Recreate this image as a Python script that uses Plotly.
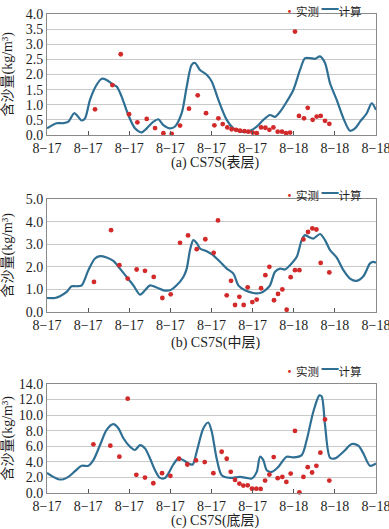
import plotly.graph_objects as go

# ---------------- data ----------------
tick_hours = [0, 4, 8, 12, 16, 20, 24, 28, 32]
tick_labels = ["8−17", "8−17", "8−17", "8−17", "8−17", "8−17", "8−18", "8−18", "8−18"]

# (a) surface layer
a_calc_x = [0, 0.94, 1.59, 2.08, 2.63, 2.89, 3.37, 3.70, 4.18, 4.83, 5.32, 5.80, 6.45, 6.78, 7.26, 7.91,
            8.56, 9.21, 9.70, 10.35, 10.83, 11.32, 11.97, 12.45, 13.10, 13.59, 14.07, 14.40, 14.88, 15.53,
            16.02, 16.67, 17.48, 18.13, 18.77, 19.58, 20.40, 21.04, 21.69, 22.18, 22.67, 23.31, 23.96,
            24.61, 25.10, 25.58, 26.07, 26.56, 27.04, 27.53, 28.18, 28.83, 29.47, 29.96, 30.45, 31.10,
            31.58, 32.0]
a_calc_y = [0.22, 0.39, 0.39, 0.44, 0.72, 0.66, 0.48, 0.55, 1.16, 1.66, 1.86, 1.82, 1.66, 1.6, 1.27, 0.66,
            0.22, 0.09, 0.22, 0.44, 0.52, 0.33, 0.22, 0.28, 0.72, 1.6, 2.32, 2.38, 2.15, 1.99, 1.77, 1.16,
            0.5, 0.22, 0.12, 0.11, 0.28, 0.5, 0.66, 0.6, 0.77, 1.1, 1.49, 2.15, 2.54, 2.54, 2.52, 2.6, 2.38,
            1.71, 1.16, 0.55, 0.14, 0.22, 0.44, 0.72, 1.05, 0.83]
a_obs_x = [4.67, 6.36, 7.17, 7.98, 8.79, 9.70, 10.51, 11.32, 12.13, 12.94, 13.81, 14.66, 15.47, 16.28,
           16.67, 17.09, 17.54, 17.96, 18.39, 18.77, 19.20, 19.58, 20.01, 20.40, 20.82, 21.24, 21.63,
           22.02, 22.44, 22.86, 23.25, 23.64, 24.12, 24.51, 25.0, 25.36, 25.84, 26.23, 26.62, 27.04, 27.46]
a_obs_y = [0.85, 1.65, 2.67, 0.69, 0.42, 0.53, 0.23, 0.06, 0.04, 0.31, 0.87, 1.31, 0.72, 0.32, 0.55, 0.36,
           0.25, 0.19, 0.17, 0.14, 0.13, 0.11, 0.08, 0.06, 0.25, 0.24, 0.17, 0.25, 0.11, 0.11, 0.06, 0.08,
           3.42, 0.63, 0.55, 0.9, 0.5, 0.61, 0.63, 0.47, 0.37]

# (b) middle layer
b_calc_x = [0, 0.78, 1.26, 1.91, 2.40, 2.89, 3.37, 4.02, 4.67, 5.16, 5.80, 6.45, 7.10, 7.75, 8.40, 9.05,
            9.53, 10.02, 10.67, 11.32, 11.96, 12.61, 13.26, 13.59, 13.91, 14.23, 14.56, 14.88, 15.53,
            16.18, 16.83, 17.48, 18.13, 18.61, 19.26, 20.07, 20.72, 21.21, 21.69, 22.18, 22.67, 23.15,
            23.64, 24.29, 24.77, 25.10, 25.42, 25.91, 26.56, 27.04, 27.53, 28.18, 28.83, 29.47, 30.12,
            30.77, 31.42, 31.74, 32.0]
b_calc_y = [0.62, 0.62, 0.7, 0.89, 1.14, 1.14, 1.18, 1.85, 2.37, 2.47, 2.41, 2.26, 1.92, 1.55, 1.18, 0.77,
            0.96, 1.18, 1.08, 0.96, 0.96, 1.18, 1.55, 1.92, 2.74, 3.18, 3.05, 2.81, 2.69, 2.51, 2.22, 1.92,
            1.7, 1.18, 0.96, 0.84, 0.84, 0.96, 1.18, 1.78, 1.92, 1.88, 2.07, 2.44, 3.18, 3.4, 3.33, 3.25,
            3.45, 3.18, 2.74, 2.41, 1.85, 1.48, 1.38, 1.58, 2.15, 2.22, 2.18]
b_obs_x = [4.57, 6.23, 7.04, 7.85, 8.72, 9.53, 10.38, 11.22, 12.03, 12.94, 13.72, 14.56, 15.40, 16.21,
           16.63, 17.48, 17.90, 18.29, 18.71, 19.13, 19.52, 19.97, 20.40, 20.82, 21.24, 21.63, 22.08,
           22.47, 22.89, 23.31, 23.70, 24.12, 24.55, 24.94, 25.39, 25.81, 26.20, 26.62, 27.46]
b_obs_y = [1.33, 3.62, 2.07, 1.48, 1.88, 1.82, 1.55, 0.62, 0.78, 3.06, 3.39, 2.78, 3.22, 2.62, 4.05, 0.74,
           1.38, 0.31, 0.67, 0.31, 1.09, 0.44, 0.55, 1.05, 1.63, 2.0, 0.52, 0.8, 1.0, 0.1, 1.54, 1.85,
           1.85, 3.21, 3.54, 3.7, 3.65, 2.17, 1.75]

# (c) bottom layer
c_calc_x = [0, 0.62, 1.10, 1.59, 2.08, 2.72, 3.37, 4.02, 4.51, 5.16, 5.80, 6.45, 6.94, 7.43, 8.07, 8.56,
            9.05, 9.53, 10.02, 10.51, 10.99, 11.48, 11.80, 12.29, 12.78, 13.26, 13.75, 14.17, 14.56,
            15.21, 15.69, 16.02, 16.50, 16.99, 17.80, 18.77, 19.42, 19.91, 20.40, 20.72, 21.04, 21.37,
            21.85, 22.50, 23.31, 23.96, 24.77, 25.26, 25.91, 26.49, 26.72, 27.04, 27.53, 28.02, 28.83,
            29.64, 30.28, 30.77, 31.42, 32.0]
c_calc_y = [2.59, 2.07, 1.77, 1.77, 2.07, 2.8, 3.49, 3.49, 4.22, 6.16, 8.1, 8.84, 8.32, 7.03, 5.95, 5.52,
            6.16, 5.73, 4.44, 2.93, 1.94, 1.94, 2.5, 3.66, 4.44, 4.22, 3.79, 3.66, 5.3, 8.32, 9.05, 7.89,
            4.44, 2.28, 1.94, 2.07, 1.94, 1.85, 2.71, 4.66, 4.22, 2.93, 2.71, 3.36, 4.66, 4.57, 4.87, 6.81,
            10.47, 12.54, 12.4, 8.75, 4.53, 4.44, 5.3, 6.29, 6.08, 5.09, 3.49, 3.79]
c_obs_x = [4.51, 6.16, 7.04, 7.85, 8.69, 9.53, 10.34, 11.19, 12.0, 12.84, 13.65, 14.49, 15.34, 16.18,
           16.63, 16.99, 17.48, 17.87, 18.29, 18.71, 19.10, 19.52, 19.94, 20.36, 20.78, 21.21, 21.63,
           22.05, 22.44, 22.89, 23.28, 23.70, 24.12, 24.55, 24.94, 25.36, 25.78, 26.20, 26.59, 27.04, 27.46]
c_obs_y = [6.25, 6.08, 4.66, 12.11, 2.33, 1.98, 1.25, 2.54, 2.2, 4.4, 3.66, 4.18, 3.97, 2.54, 14.17, 5.3,
           4.4, 2.72, 1.68, 1.21, 0.95, 0.99, 0.56, 0.56, 0.52, 1.59, 2.37, 4.61, 1.9, 2.07, 1.42, 2.5,
           7.97, 0.09, 2.07, 3.32, 2.63, 3.49, 5.18, 9.44, 1.59]

panel_titles = ["(a) CS7S(表层)", "(b) CS7S(中层)", "(c) CS7S(底层)"]
y_title = "含沙量(kg/m³)"
y_ranges = [(0, 4.0, 0.5, ".1f"), (0, 5.0, 1.0, ".1f"), (0, 14.0, 2.0, ".1f")]
legend_names = ["实测", "计算"]

# ---------------- style ----------------
W, H = 389, 529
FONT = "Liberation Serif"
MIX_FONT = "Liberation Serif, Noto Sans CJK SC"
LINE_C = "#2f6f93"
DOT_C = "#d22a2a"
GRID_C = "#c9c9c9"
AX_C = "#8a8a8a"
TXT_C = "#1e1e1e"

rows_px = [(14, 135), (199, 312), (384, 493)]
x_px = (47, 376)
title_y_px = [163, 343, 521]
legend_y_px = [8, 193, 368]

fig = go.Figure()
series = [(a_obs_x, a_obs_y, a_calc_x, a_calc_y),
          (b_obs_x, b_obs_y, b_calc_x, b_calc_y),
          (c_obs_x, c_obs_y, c_calc_x, c_calc_y)]

for i, (ox, oy, cx, cy) in enumerate(series):
    sfx = "" if i == 0 else str(i + 1)
    fig.add_trace(go.Scatter(x=cx, y=cy, mode="lines", name=legend_names[1],
                             line=dict(color=LINE_C, width=2.2, shape="spline", smoothing=0.8),
                             showlegend=False, xaxis="x" + sfx, yaxis="y" + sfx))
    fig.add_trace(go.Scatter(x=ox, y=oy, mode="markers", name=legend_names[0],
                             marker=dict(color=DOT_C, size=4.8), showlegend=False, cliponaxis=False,
                             xaxis="x" + sfx, yaxis="y" + sfx))

layout = dict(width=W, height=H, margin=dict(l=0, r=0, t=0, b=0),
              paper_bgcolor="white", plot_bgcolor="white",
              font=dict(family=FONT, size=14, color=TXT_C),
              showlegend=False, annotations=[])

legend_html = ('<span style="color:%s;font-size:13px">•</span>%s '
               '<span style="color:%s;font-size:17px">━</span>%s') % (DOT_C, legend_names[0],
                                                                      LINE_C, legend_names[1])

for i in range(3):
    sfx = "" if i == 0 else str(i + 1)
    top, bot = rows_px[i]
    y0, y1, dt, fmt = y_ranges[i]
    layout["xaxis" + sfx] = dict(
        domain=[x_px[0] / W, x_px[1] / W], range=[0, 32], anchor="y" + sfx,
        tickvals=tick_hours, ticktext=tick_labels, ticks="inside", ticklen=4,
        tickcolor="#555", showgrid=False, showline=True, linecolor=AX_C, linewidth=1,
        mirror=True, zeroline=False, automargin=False, ticklabeloverflow="allow",
        tickfont=dict(family=FONT, size=14, color=TXT_C))
    layout["yaxis" + sfx] = dict(
        domain=[1 - bot / H, 1 - top / H], range=[y0, y1], anchor="x" + sfx,
        dtick=dt, tick0=0, tickformat=fmt, showgrid=True, gridcolor=GRID_C, gridwidth=1,
        showline=True, linecolor=AX_C, linewidth=1, mirror=True, zeroline=False,
        ticks="", automargin=False, ticklabeloverflow="allow",
        tickfont=dict(family=FONT, size=14, color=TXT_C))
    layout["annotations"].append(dict(
        text=legend_html, xref="paper", yref="paper", x=364 / W, y=1 - legend_y_px[i] / H,
        xanchor="right", yanchor="middle", showarrow=False,
        font=dict(family="Noto Sans CJK SC", size=11.5, color=TXT_C)))
    layout["annotations"].append(dict(
        text=panel_titles[i], xref="paper", yref="paper", x=215 / W, y=1 - title_y_px[i] / H,
        xanchor="center", yanchor="middle", showarrow=False,
        font=dict(family=MIX_FONT, size=14, color=TXT_C)))
    layout["annotations"].append(dict(
        text=y_title, xref="paper", yref="paper", x=7 / W, y=1 - (top + bot) / 2 / H,
        xanchor="center", yanchor="middle", textangle=-90, showarrow=False,
        font=dict(family=MIX_FONT, size=14, color=TXT_C)))

fig.update_layout(**layout)
fig.write_html("out.html", config={"displayModeBar": False},
               post_script="document.body.style.margin='0';")
